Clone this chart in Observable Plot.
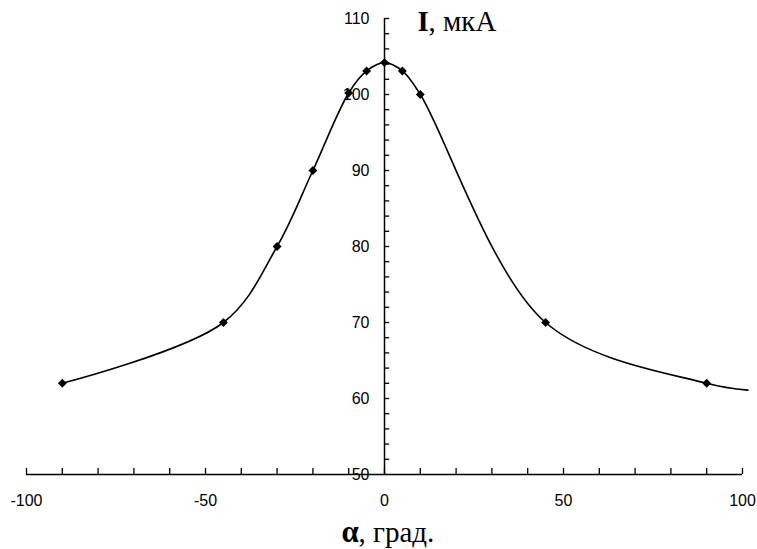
<!DOCTYPE html>
<html>
<head>
<meta charset="utf-8">
<script src="https://cdn.jsdelivr.net/npm/d3@7"></script>
<script src="https://cdn.jsdelivr.net/npm/@observablehq/plot@0.6"></script>
<style>
  html, body { margin: 0; padding: 0; background: white; }
</style>
</head>
<body>
<div id="chart"></div>
<script>
// Measured points (markers)
const alpha = [-90, -45, -30, -20, -10, -5, 0, 5, 10, 45, 90];
const current = [62, 70, 80, 90, 100.2, 103.1, 104.2, 103.1, 100, 70, 62];
// The smoothed curve runs on past the last marker to the right edge
const curveAlpha = [-90, -45, -30, -20, -10, -5, 0, 5, 10, 45, 90, 101.5];
const curveCurrent = [62, 70, 80, 90, 100.2, 103.1, 104.2, 103.1, 100, 70, 62, 61.1];

// Axes
const xTickMarks = [-100, -90, -80, -70, -60, -50, -40, -30, -20, -10, 0, 10, 20, 30, 40, 50, 60, 70, 80, 90, 100];
const xTickLabels = [-100, -50, 0, 50, 100];
const yTickMarks = [52, 54, 56, 58, 60, 62, 64, 66, 68, 70, 72, 74, 76, 78, 80, 82, 84, 86, 88, 90, 92, 94, 96, 98, 100, 102, 104, 106, 108, 110];
const yTickLabels = [50, 60, 70, 80, 90, 100, 110];

const points = alpha.map((a, i) => ({a, v: current[i]}));
const curvePts = curveAlpha.map((a, i) => ({a, v: curveCurrent[i]}));

const sans = "Liberation Sans, Arial, sans-serif";
const serif = "Liberation Serif, Times New Roman, serif";

const chart = Plot.plot({
  width: 757,
  height: 549,
  marginLeft: 26,
  marginRight: 15,
  marginTop: 18,
  marginBottom: 75,
  x: {domain: [-100, 100], axis: null},
  y: {domain: [50, 110], axis: null},
  style: {background: "white", overflow: "visible"},
  marks: [
    Plot.ruleY([50], {x1: -100, x2: 100, stroke: "black", strokeWidth: 1.5}),
    Plot.ruleX([0], {y1: 50, y2: 110, stroke: "black", strokeWidth: 1.5}),
    Plot.ruleX(xTickMarks, {x: d => d, y1: 50, y2: 50.8, stroke: "black", strokeWidth: 1.3}),
    Plot.ruleY(yTickMarks, {y: d => d, x1: 0, x2: 1.45, stroke: "black", strokeWidth: 1.3}),
    Plot.text(xTickLabels, {x: d => d, y: 50, dy: 26, text: d => String(d), fontSize: 16, fontFamily: sans, fill: "black"}),
    Plot.text(yTickLabels, {x: 0, y: d => d, dx: -15, textAnchor: "end", text: d => String(d), fontSize: 16, fontFamily: sans, fill: "black"}),
    Plot.line(curvePts, {x: "a", y: "v", curve: "catmull-rom", stroke: "black", strokeWidth: 1.6}),
    Plot.dot(points, {x: "a", y: "v", symbol: "diamond2", r: 4, fill: "black", stroke: "none"}),
    // Y axis label: bold "I", then ", мкА"
    Plot.text(["I"], {x: 0, y: 110, dx: 33, dy: 12, lineAnchor: "bottom", textAnchor: "start", fontSize: 29, fontWeight: "bold", fontFamily: serif, fill: "black"}),
    Plot.text([", мкА"], {x: 0, y: 110, dx: 44, dy: 12, lineAnchor: "bottom", textAnchor: "start", fontSize: 29, fontFamily: serif, fill: "black"}),
    // X axis label
    Plot.text(["α"], {x: 0, y: 50, dx: -43, dy: 67, lineAnchor: "bottom", textAnchor: "start", fontSize: 31, fontWeight: "bold", fontFamily: serif, fill: "black"}),
    Plot.text([", град."], {x: 0, y: 50, dx: -26, dy: 67, lineAnchor: "bottom", textAnchor: "start", fontSize: 29, fontFamily: serif, fill: "black"})
  ]
});
document.getElementById("chart").appendChild(chart);
</script>
</body>
</html>
